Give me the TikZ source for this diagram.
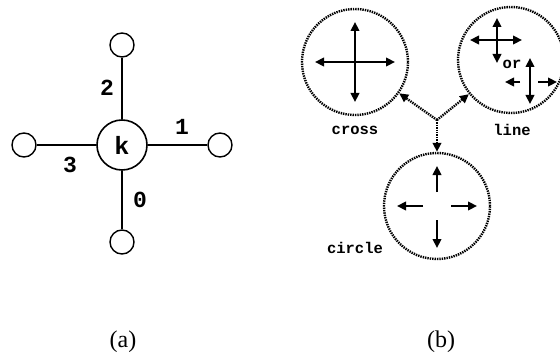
\documentclass[tikz,border=0pt]{standalone}
\usepackage{fontspec}
\setmainfont{Liberation Serif}
\setmonofont{Liberation Mono}
\usetikzlibrary{arrows.meta}
\begin{document}
\begin{tikzpicture}[x=1pt,y=-1pt,
 small/.style={circle,draw,line width=1.4pt,minimum size=24pt,inner sep=0pt},
 hub/.style={circle,draw,line width=1.6pt,minimum size=50pt,inner sep=0pt,font=\ttfamily\bfseries\fontsize{25}{25}\selectfont},
 edge/.style={line width=1.4pt},
 num/.style={font=\ttfamily\bfseries\fontsize{23}{23}\selectfont},
 zone/.style={circle,draw,line width=2.4pt,dash pattern=on 1.4pt off 1pt,minimum size=106pt,inner sep=0pt},
 arr/.style={line width=2.6pt,-{Triangle[length=9pt,width=8.5pt]}},
 darr/.style={line width=2.6pt,{Triangle[length=9pt,width=8.5pt]}-{Triangle[length=9pt,width=8.5pt]}},
 link/.style={line width=2.4pt,dash pattern=on 1.4pt off 1pt,-{Triangle[length=9pt,width=8.5pt]}},
 lbl/.style={font=\ttfamily\bfseries\fontsize{15.5}{15.5}\selectfont},
 subcap/.style={font=\fontsize{24}{24}\selectfont}
]
\useasboundingbox (0,0) rectangle (560,361);
% (a)
\node[hub] (k) at (122,145) {k};
\node[small] (t) at (122,45) {};
\node[small] (l) at (24,145) {};
\node[small] (r) at (220,145) {};
\node[small] (b) at (122,242) {};
\draw[edge] (k) -- (t);
\draw[edge] (k) -- (l);
\draw[edge] (k) -- (r);
\draw[edge] (k) -- (b);
\node[num] (n2) at (107,88) {2};
\node[num] (n1) at (182,127) {1};
\node[num] (n3) at (70,165) {3};
\node[num] (n0) at (140,200) {0};
% (b)
\node[zone] (cross) at (355,62) {};
\node[zone] (line) at (511,60) {};
\node[zone] (circ) at (437,206) {};
% cross
\draw[darr] ([shift={(-40,0)}]cross.center) -- ([shift={(40,0)}]cross.center);
\draw[darr] ([shift={(0,-40)}]cross.center) -- ([shift={(0,40)}]cross.center);
% line
\coordinate (lc1) at (497,40);
\draw[darr] ([shift={(-27,0)}]lc1) -- ([shift={(25,0)}]lc1);
\draw[arr] (lc1) -- ([shift={(0,-22)}]lc1);
\draw[arr] (lc1) -- ([shift={(0,23)}]lc1);
\node[lbl] (or) at (512,64) {or};
\coordinate (lc2) at (530,82);
\draw[darr] ([shift={(0,-24)}]lc2) -- ([shift={(0,22)}]lc2);
\draw[arr] ([shift={(-10,0)}]lc2) -- ([shift={(-25,0)}]lc2);
\draw[arr] ([shift={(8,0)}]lc2) -- ([shift={(27,0)}]lc2);
% circle
\draw[arr] ([shift={(0,-14)}]circ.center) -- ([shift={(0,-40)}]circ.center);
\draw[arr] ([shift={(0,14)}]circ.center) -- ([shift={(0,42)}]circ.center);
\draw[arr] ([shift={(-14,0)}]circ.center) -- ([shift={(-40,0)}]circ.center);
\draw[arr] ([shift={(14,0)}]circ.center) -- ([shift={(40,0)}]circ.center);
% links
\coordinate (j) at (437,120);
\draw[link] (j) -- (cross);
\draw[link] (j) -- (line);
\draw[link] (j) -- (circ);
\node[lbl] (lcross) at (355,130) {cross};
\node[lbl] (lline) at (512,130) {line};
\node[lbl] (lcirc) at (355,248) {circle};
% captions
\node[subcap] (ca) at (123,342) {(a)};
\node[subcap] (cb) at (441,342) {(b)};
\end{tikzpicture}
\end{document}
